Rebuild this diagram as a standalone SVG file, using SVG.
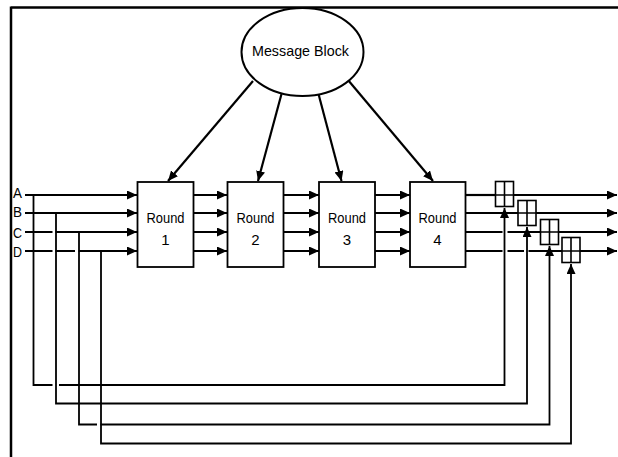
<svg xmlns="http://www.w3.org/2000/svg" width="618" height="457" viewBox="0 0 618 457">
<style>
.ln{stroke:#000;stroke-width:2.2;fill:none}
.fb{stroke:#000;stroke-width:1.8;fill:none}
.bx{stroke:#000;stroke-width:1.8;fill:#fff}
.ad{stroke:#000;stroke-width:1.6;fill:#fff}
.t{font-family:"Liberation Sans",Arial,sans-serif;font-size:15px;fill:#000}
.m{text-anchor:middle}
</style>
<defs>
<marker id="ah" markerUnits="userSpaceOnUse" markerWidth="10" markerHeight="9" refX="10" refY="4.5" orient="auto">
<path d="M0,0 L10,4.5 L0,9 z" fill="#000"/>
</marker>
</defs>
<rect width="618" height="457" fill="#fff"/>
<g id="frame">
<path d="M11,7.5 H618 M11,6.5 V457" stroke="#000" stroke-width="2.5" fill="none"/>
</g>
<g id="labels">
<text class="t" x="13" y="198" textLength="9" lengthAdjust="spacingAndGlyphs">A</text>
<text class="t" x="13" y="217" textLength="9" lengthAdjust="spacingAndGlyphs">B</text>
<text class="t" x="13" y="238" textLength="9" lengthAdjust="spacingAndGlyphs">C</text>
<text class="t" x="13" y="257" textLength="9" lengthAdjust="spacingAndGlyphs">D</text>
</g>
<g id="connectors">
<path class="ln" d="M253,81 L168,181" marker-end="url(#ah)"/>
<path class="ln" d="M281.5,94 L258,181" marker-end="url(#ah)"/>
<path class="ln" d="M318.5,94 L341.5,181" marker-end="url(#ah)"/>
<path class="ln" d="M348,80 L433,181" marker-end="url(#ah)"/>
<path class="ln" d="M25,195 H137" marker-end="url(#ah)"/>
<path class="ln" d="M193,195 H227" marker-end="url(#ah)"/>
<path class="ln" d="M283,195 H319" marker-end="url(#ah)"/>
<path class="ln" d="M375,195 H410" marker-end="url(#ah)"/>
<path class="ln" d="M465,195 H495.5"/>
<path class="ln" d="M513.5,195 H617" marker-end="url(#ah)"/>
<path class="ln" d="M25,213 H137" marker-end="url(#ah)"/>
<path class="ln" d="M193,213 H227" marker-end="url(#ah)"/>
<path class="ln" d="M283,213 H319" marker-end="url(#ah)"/>
<path class="ln" d="M375,213 H410" marker-end="url(#ah)"/>
<path class="ln" d="M465,213 H518"/>
<path class="ln" d="M536,213 H617" marker-end="url(#ah)"/>
<path class="ln" d="M25,232 H52.5 M55.5,232 H137" marker-end="url(#ah)"/>
<path class="ln" d="M193,232 H227" marker-end="url(#ah)"/>
<path class="ln" d="M283,232 H319" marker-end="url(#ah)"/>
<path class="ln" d="M375,232 H410" marker-end="url(#ah)"/>
<path class="ln" d="M465,232 H502.5 M507.5,232 H540.5"/>
<path class="ln" d="M558.5,232 H617" marker-end="url(#ah)"/>
<path class="ln" d="M25,251 H52.5 M55.5,251 H75 M78.5,251 H137" marker-end="url(#ah)"/>
<path class="ln" d="M193,251 H227" marker-end="url(#ah)"/>
<path class="ln" d="M283,251 H319" marker-end="url(#ah)"/>
<path class="ln" d="M375,251 H410" marker-end="url(#ah)"/>
<path class="ln" d="M465,251 H502.5 M507.5,251 H524 M528.5,251 H562"/>
<path class="ln" d="M580,251 H617" marker-end="url(#ah)"/>
<path class="fb" d="M33.5,195 V385 H52.5 M59,385 H504.5 V208" marker-end="url(#ah)"/>
<path class="fb" d="M56,213 V403.5 H527 V227" marker-end="url(#ah)"/>
<path class="fb" d="M79,232 V424.5 H97 M100.5,424.5 H549.5 V246" marker-end="url(#ah)"/>
<path class="fb" d="M101,251 V443.5 H571 V264" marker-end="url(#ah)"/>
</g>
<g id="message-block">
<ellipse cx="302.5" cy="52" rx="61" ry="44" fill="#fff" stroke="#000" stroke-width="2"/>
<text class="t" x="252" y="56" textLength="97" lengthAdjust="spacingAndGlyphs">Message Block</text>
</g>
<g id="round1">
<rect class="bx" x="137.5" y="182" width="56" height="85"/>
<text class="t" x="146.5" y="223" textLength="38" lengthAdjust="spacingAndGlyphs">Round</text>
<text class="t m" x="165.5" y="245">1</text>
</g>
<g id="round2">
<rect class="bx" x="227.5" y="182" width="56" height="85"/>
<text class="t" x="236.5" y="223" textLength="38" lengthAdjust="spacingAndGlyphs">Round</text>
<text class="t m" x="255.5" y="245">2</text>
</g>
<g id="round3">
<rect class="bx" x="319" y="182" width="56" height="85"/>
<text class="t" x="328" y="223" textLength="38" lengthAdjust="spacingAndGlyphs">Round</text>
<text class="t m" x="347" y="245">3</text>
</g>
<g id="round4">
<rect class="bx" x="410" y="182" width="55.5" height="85"/>
<text class="t" x="418.5" y="223" textLength="38" lengthAdjust="spacingAndGlyphs">Round</text>
<text class="t m" x="437.5" y="245">4</text>
</g>
<g id="adderA">
<rect class="ad" x="495.5" y="181.5" width="18" height="25"/>
<path class="ad" d="M504.5,181.5 V206.5 M495.5,195 H513.5"/>
</g>
<g id="adderB">
<rect class="ad" x="518" y="200.5" width="18" height="25"/>
<path class="ad" d="M527,200.5 V225.5 M518,213 H536"/>
</g>
<g id="adderC">
<rect class="ad" x="540.5" y="219.5" width="18" height="25"/>
<path class="ad" d="M549.5,219.5 V244.5 M540.5,232 H558.5"/>
</g>
<g id="adderD">
<rect class="ad" x="562" y="237.5" width="18" height="25"/>
<path class="ad" d="M571,237.5 V262.5 M562,251 H580"/>
</g>
</svg>
